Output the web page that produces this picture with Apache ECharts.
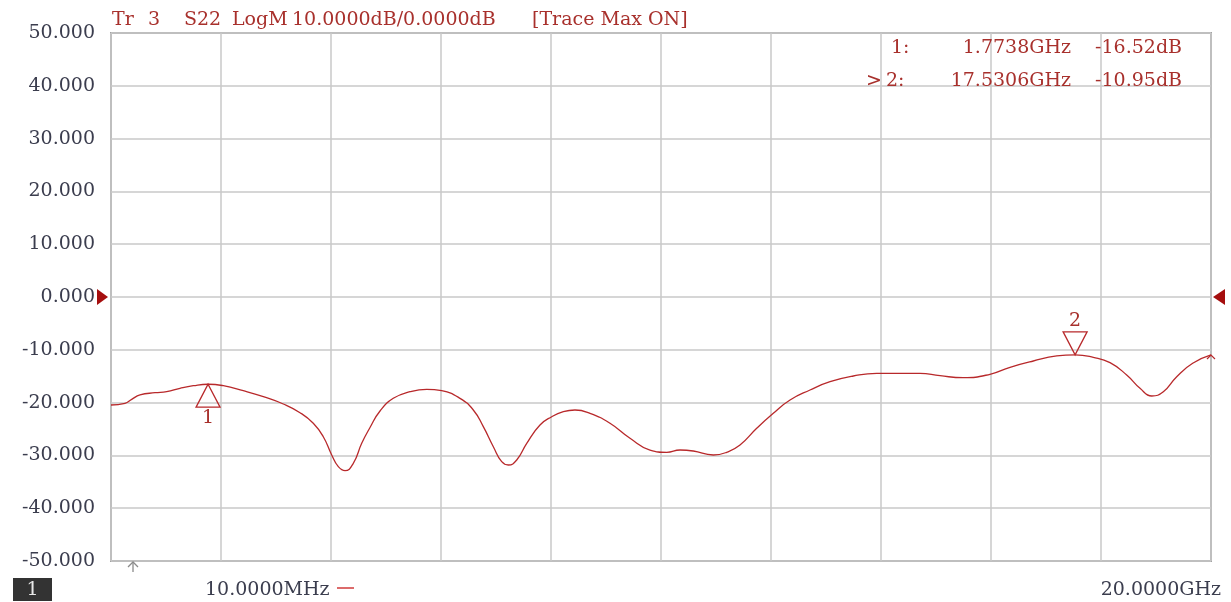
<!DOCTYPE html>
<html>
<head>
<meta charset="utf-8">
<script src="https://cdn.jsdelivr.net/npm/echarts@6/dist/echarts.min.js"></script>
<style>
  html, body { margin: 0; padding: 0; background: #ffffff; }
  #main { width: 1231px; height: 602px; }
</style>
</head>
<body>
<div id="main"></div>
<script>
// S22 return-loss trace, frequency in GHz, magnitude in dB
const freqGHz = [0.010, 0.264, 0.386, 0.537, 0.810, 1.022, 1.264, 1.506, 1.7738, 2.051,
  2.414, 2.778, 3.141, 3.445, 3.686, 3.868, 4.021, 4.141, 4.263, 4.413,
  4.566, 4.717, 4.899, 5.140, 5.444, 5.747, 6.020, 6.352, 6.594, 6.776,
  6.958, 7.110, 7.230, 7.383, 7.565, 7.806, 8.019, 8.230, 8.442, 8.715,
  9.078, 9.442, 9.805, 10.109, 10.351, 10.592, 10.956, 11.199, 11.441, 11.744,
  12.046, 12.350, 12.713, 13.077, 13.500, 13.925, 14.470, 14.712, 15.076, 15.499,
  15.984, 16.348, 16.771, 17.196, 17.5306, 17.861, 18.165, 18.468, 18.710, 18.923,
  19.134, 19.377, 19.667, 20.000];
const s22dB = [-20.45, -20.13, -19.38, -18.56, -18.13, -17.94, -17.29, -16.80, -16.52, -16.80,
  -17.75, -18.88, -20.27, -21.91, -23.92, -26.46, -29.92, -32.14, -32.90, -31.50,
  -27.71, -24.72, -21.59, -19.19, -17.94, -17.48, -17.75, -19.19, -21.40, -24.56,
  -28.35, -31.19, -31.82, -30.87, -27.71, -24.24, -22.67, -21.72, -21.40, -22.03,
  -23.92, -26.76, -28.98, -29.41, -28.98, -29.17, -29.92, -29.41, -28.03, -24.87,
  -22.03, -19.51, -17.61, -16.04, -14.96, -14.45, -14.45, -14.45, -14.91, -15.28,
  -14.64, -13.31, -12.12, -11.17, -10.95, -11.42, -12.44, -14.77, -17.29, -18.75,
  -17.94, -15.09, -12.56, -10.98];

// Markers
const markerNames = ['1', '2'];
const markerFreqGHz = [1.7738, 17.5306];
const markerDb = [-16.52, -10.95];
const activeMarker = 1;

// Scale and annotation text
const startFreqGHz = 0.01;
const stopFreqGHz = 20;
const yMin = -50, yMax = 50, yStep = 10;
const divisions = 10;
const titleText = 'Tr 3  S22 LogM 10.0000dB/0.0000dB  [Trace Max ON]';
const startLabel = '10.0000MHz';
const stopLabel = '20.0000GHz';
const channelLabel = '1';

const FONT = "'DejaVu Serif', serif";
const TRACE = '#b8292b';
const TEXT_RED = '#a8302c';
const LABEL = '#3b3d4e';
const GRID_LINE = '#c8c8c8';

const chart = echarts.init(document.getElementById('main'), null, { renderer: 'canvas' });

const G = { left: 111, top: 33, width: 1100, height: 528 };

const upTri = 'path://M12,0L24,23L0,23Z';
const downTri = 'path://M0,0L24,0L12,23Z';

chart.setOption({
  animation: false,
  backgroundColor: '#ffffff',
  grid: Object.assign({ show: true, borderColor: '#a2a2a2', borderWidth: 2, backgroundColor: '#ffffff' }, G),
  xAxis: [
    {
      // graticule: equal divisions across the span
      type: 'value', min: 0, max: divisions, interval: 1,
      axisLine: { show: false }, axisTick: { show: false }, axisLabel: { show: false },
      splitLine: { show: true, lineStyle: { color: GRID_LINE, width: 1.5 } }
    },
    {
      // frequency scale of the trace
      type: 'value', min: startFreqGHz, max: stopFreqGHz, show: false
    }
  ],
  yAxis: {
    type: 'value', min: yMin, max: yMax, interval: yStep,
    axisLine: { show: false }, axisTick: { show: false },
    axisLabel: {
      margin: 16, color: LABEL, fontFamily: FONT, fontSize: 19,
      formatter: v => v.toFixed(3)
    },
    splitLine: { show: true, lineStyle: { color: GRID_LINE, width: 1.5 } }
  },
  series: [{
    type: 'line',
    xAxisIndex: 1, yAxisIndex: 0,
    data: freqGHz.map((f, i) => [f, s22dB[i]]),
    smooth: 0.5,
    symbol: 'none',
    lineStyle: { color: TRACE, width: 1.3 },
    markPoint: {
      animation: false,
      itemStyle: { color: 'rgba(255,255,255,0)', borderColor: TRACE, borderWidth: 1.3 },
      label: { show: true, color: TEXT_RED, fontFamily: FONT, fontSize: 19 },
      data: markerNames.map((name, i) => {
        const below = i === 0;
        return {
          coord: [markerFreqGHz[i], markerDb[i]],
          symbol: below ? upTri : downTri,
          symbolSize: [24, 23],
          symbolOffset: [0, below ? 11.5 : -11.5],
          label: { position: below ? 'bottom' : 'top', distance: 1, formatter: name }
        };
      })
    }
  }]
});

// Pixel helpers for annotations
const px = (f, db) => chart.convertToPixel({ xAxisIndex: 1, yAxisIndex: 0 }, [f, db]);
const y0 = px(startFreqGHz, 0)[1];
const left = G.left, right = G.left + G.width, bottom = G.top + G.height;
const end = px(freqGHz[freqGHz.length - 1], s22dB[s22dB.length - 1]);

const graphics = [];

// Title, each word (or bracketed group) placed on a fixed character pitch
const pitch = 12;
for (const m of titleText.matchAll(/\[[^\]]*\]|\S+/g)) {
  graphics.push({
    type: 'text', x: left + 1 + m.index * pitch, y: 20,
    style: { text: m[0], fill: TEXT_RED, font: '19px ' + FONT, textVerticalAlign: 'middle' }
  });
}

// Marker readout
markerNames.forEach((name, i) => {
  const y = 48 + i * 33;
  if (i === activeMarker) {
    graphics.push({ type: 'text', x: 866, y, style: { text: '>', fill: TEXT_RED, font: '19px ' + FONT, textVerticalAlign: 'middle' } });
  }
  graphics.push({ type: 'text', x: i === activeMarker ? 886 : 891, y, style: { text: name + ':', fill: TEXT_RED, font: '19px ' + FONT, textVerticalAlign: 'middle' } });
  graphics.push({ type: 'text', x: 1071, y, style: { text: markerFreqGHz[i].toFixed(4) + 'GHz', fill: TEXT_RED, font: '19px ' + FONT, textAlign: 'right', textVerticalAlign: 'middle' } });
  graphics.push({ type: 'text', x: 1182, y, style: { text: markerDb[i].toFixed(2) + 'dB', fill: TEXT_RED, font: '19px ' + FONT, textAlign: 'right', textVerticalAlign: 'middle' } });
});

// Reference level arrows at 0 dB
graphics.push({ type: 'polygon', shape: { points: [[left - 14, y0 - 8], [left - 3, y0], [left - 14, y0 + 8]] }, style: { fill: '#a50e0e' } });
graphics.push({ type: 'polygon', shape: { points: [[right + 14, y0 - 8], [right + 2, y0], [right + 14, y0 + 8]] }, style: { fill: '#a50e0e' } });

// Trace end tick
graphics.push({ type: 'polyline', shape: { points: [[end[0] - 4, end[1] + 4], [end[0], end[1]], [end[0] + 4, end[1] + 4]] }, style: { stroke: TRACE, lineWidth: 1.2, fill: null } });

// Stimulus indicator under the graticule
graphics.push({ type: 'polyline', shape: { points: [[left + 17, bottom + 6], [left + 22, bottom + 1], [left + 27, bottom + 6]] }, style: { stroke: '#8a8a8a', lineWidth: 1.3, fill: null } });
graphics.push({ type: 'line', shape: { x1: left + 22, y1: bottom + 1, x2: left + 22, y2: bottom + 11 }, style: { stroke: '#8a8a8a', lineWidth: 1.3 } });

// Channel box
graphics.push({ type: 'rect', shape: { x: 13, y: 578, width: 39, height: 23 }, style: { fill: '#333333' } });
graphics.push({ type: 'text', x: 32.5, y: 590, style: { text: channelLabel, fill: '#e8e8e8', font: '19px ' + FONT, textAlign: 'center', textVerticalAlign: 'middle' } });

// Start / stop annotations
graphics.push({ type: 'text', x: 205, y: 590, style: { text: startLabel, fill: LABEL, font: '19px ' + FONT, textVerticalAlign: 'middle' } });
graphics.push({ type: 'line', shape: { x1: 337, y1: 588, x2: 354, y2: 588 }, style: { stroke: '#d03a3a', lineWidth: 1.5 } });
graphics.push({ type: 'text', x: 1221, y: 590, style: { text: stopLabel, fill: LABEL, font: '19px ' + FONT, textAlign: 'right', textVerticalAlign: 'middle' } });

chart.setOption({ graphic: graphics });
</script>
</body>
</html>
